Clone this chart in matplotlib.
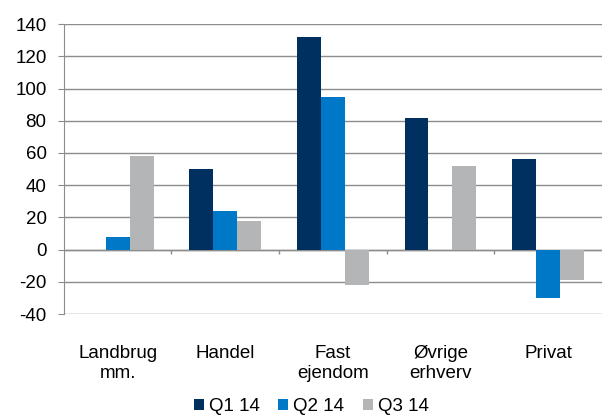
import numpy as np
import matplotlib.pyplot as plt

plt.rcParams['font.family'] = ['Liberation Sans', 'DejaVu Sans']
plt.rcParams['axes.unicode_minus'] = False

categories = ['Landbrug\nmm.', 'Handel', 'Fast\nejendom', 'Øvrige\nerhverv', 'Privat']
q1 = [0, 50, 132, 82, 56]
q2 = [8, 24, 95, -0.5, -30]
q3 = [58, 18, -22, 52, -19]
series = ['Q1 14', 'Q2 14', 'Q3 14']
colors = ['#003060', '#0078C8', '#B4B5B7']

fs = 13.5

fig = plt.figure(figsize=(6.03, 4.16), dpi=100)
ax = fig.add_axes([0.106, 0.245, 0.892, 0.697])

x = np.arange(len(categories))
w = 0.222
for i, (vals, name, c) in enumerate(zip([q1, q2, q3], series, colors)):
    ax.bar(x + (i - 1) * w, vals, width=w, color=c, label=name, zorder=3)

ax.set_xlim(-0.5, len(categories) - 0.5)
ax.set_ylim(-40, 140)
ax.set_yticks(range(-40, 141, 20))
ax.grid(axis='y', color='#8C8C8C', linewidth=1, zorder=0)

for s in ['top', 'right', 'bottom']:
    ax.spines[s].set_visible(False)
ax.spines['left'].set_color('#8C8C8C')
ax.tick_params(axis='y', length=4.5, color='#8C8C8C', labelsize=fs, pad=8)

# zero line with category boundary ticks
ax.axhline(0, color='#8C8C8C', linewidth=1, zorder=2)
ax.vlines(np.arange(0.5, len(categories) - 0.5), -3, 0, color='#8C8C8C', linewidth=1, zorder=2)

ax.set_xticks(x)
ax.set_xticklabels(categories, fontsize=fs, linespacing=1.25)
ax.tick_params(axis='x', length=0, pad=22)

fig.legend(loc='center', bbox_to_anchor=(0.516, 0.022), ncol=3, frameon=False,
           fontsize=fs, handlelength=0.55, handleheight=0.55, handletextpad=0.25,
           columnspacing=1.0, borderpad=0)

fig.savefig('out.png', dpi=100)
